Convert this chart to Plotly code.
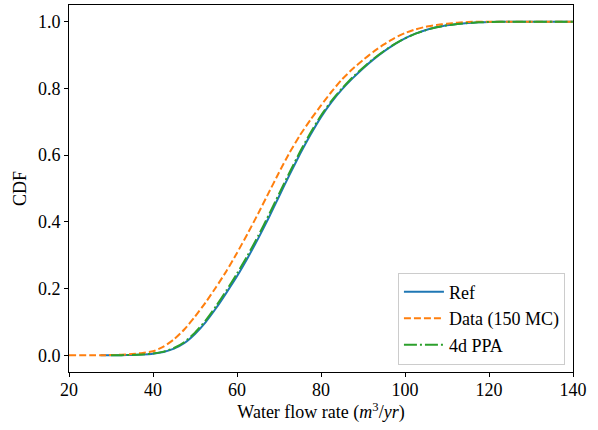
import plotly.graph_objects as go

# ---- data ----
x_ref = [27.5, 30, 32.5, 35, 37.5, 40, 42.5, 45, 47.5, 50, 52.5, 55, 57.5, 60, 62.5, 65, 67.5, 70,
         72.5, 75, 77.5, 80, 82.5, 85, 87.5, 90, 92.5, 95, 97.5, 100, 102.5, 105, 107.5, 110,
         112.5, 115, 117.5, 120, 125, 130, 135, 140]
y_ref = [0.0, 0.0002, 0.0005, 0.001, 0.0025, 0.005, 0.01, 0.02, 0.037, 0.064, 0.099, 0.141, 0.188, 0.237,
         0.291, 0.349, 0.411, 0.476, 0.541, 0.603, 0.661, 0.714, 0.759, 0.797, 0.830, 0.860, 0.887,
         0.911, 0.932, 0.950, 0.964, 0.975, 0.983, 0.989, 0.993, 0.996, 0.998, 0.999, 1.0, 1.0, 1.0, 1.0]

x_data = [20, 25, 27.5, 30, 32.5, 35, 37.5, 40, 42.5, 45, 47.5, 50, 52.5, 55, 57.5, 60, 62.5, 65, 67.5, 70,
          72.5, 75, 77.5, 80, 82.5, 85, 87.5, 90, 92.5, 95, 97.5, 100, 102.5, 105, 107.5, 110,
          112.5, 115, 117.5, 120, 125, 130, 135, 140]
y_data = [0.0, 0.0, 0.0003, 0.0008, 0.002, 0.004, 0.007, 0.012, 0.026, 0.048, 0.078, 0.116, 0.158, 0.204,
          0.253, 0.307, 0.364, 0.424, 0.486, 0.548, 0.607, 0.660, 0.706, 0.749, 0.790, 0.827, 0.858,
          0.885, 0.910, 0.932, 0.951, 0.966, 0.977, 0.985, 0.990, 0.994, 0.997, 0.999, 1.0, 1.0, 1.0,
          1.0, 1.0, 1.0]

x_ppa = [30, 32.5, 35, 37.5, 40, 42.5, 45, 47.5, 50, 52.5, 55, 57.5, 60, 62.5, 65, 67.5, 70,
         72.5, 75, 77.5, 80, 82.5, 85, 87.5, 90, 92.5, 95, 97.5, 100, 102.5, 105, 107.5, 110,
         112.5, 115, 117.5, 120, 125, 130, 135, 140]
y_ppa = [0.0002, 0.0005, 0.001, 0.0027, 0.0055, 0.011, 0.022, 0.040, 0.068, 0.104, 0.147, 0.195, 0.245,
         0.299, 0.357, 0.419, 0.484, 0.548, 0.610, 0.667, 0.719, 0.763, 0.800, 0.833, 0.862, 0.889,
         0.912, 0.933, 0.950, 0.964, 0.975, 0.983, 0.989, 0.993, 0.996, 0.998, 0.999, 1.0, 1.0, 1.0, 1.0]

x_ticks = [20, 40, 60, 80, 100, 120, 140]
y_ticks = [0.0, 0.2, 0.4, 0.6, 0.8, 1.0]

FONT = "Liberation Serif"
FS = 18

fig = go.Figure()
fig.add_trace(go.Scatter(x=x_ref, y=y_ref, mode="lines", name="Ref",
                         line=dict(color="#1f77b4", width=2, shape="spline", smoothing=0.5)))
fig.add_trace(go.Scatter(x=x_data, y=y_data, mode="lines", name="Data (150 MC)",
                         line=dict(color="#ff7f0e", width=2, dash="7px,3px", shape="spline", smoothing=0.5)))
fig.add_trace(go.Scatter(x=x_ppa, y=y_ppa, mode="lines", name="4d PPA",
                         line=dict(color="#2ca02c", width=2, dash="13px,3px,2px,3px", shape="spline", smoothing=0.5)))

axis_common = dict(showline=True, linecolor="black", linewidth=1, mirror=True,
                   ticks="outside", ticklen=4, tickwidth=1, tickcolor="black",
                   showgrid=False, zeroline=False)

fig.update_xaxes(range=[20, 140], tickvals=x_ticks, ticktext=[str(v) for v in x_ticks],
                 tickfont=dict(family=FONT, size=FS, color="black"), ticklabelstandoff=-3,
                 title=dict(text="Water flow rate (<i>m</i><sup>3</sup>/<i>yr</i>)",
                            font=dict(family=FONT, size=FS, color="black"), standoff=6),
                 **axis_common)
fig.update_yaxes(range=[-0.05, 1.05], tickvals=y_ticks, ticktext=[f"{v:.1f}" for v in y_ticks],
                 tickfont=dict(family=FONT, size=FS, color="black"),
                 title=dict(text="CDF", font=dict(family=FONT, size=FS, color="black"), standoff=6),
                 **axis_common)

fig.update_layout(
    width=598, height=430,
    margin=dict(l=69, r=25, t=5, b=58),
    plot_bgcolor="white", paper_bgcolor="white",
    font=dict(family=FONT, size=FS, color="black"),
    legend=dict(x=0.984, y=0.02, xanchor="right", yanchor="bottom",
                bordercolor="#cccccc", borderwidth=1, bgcolor="rgba(255,255,255,0.8)",
                font=dict(family=FONT, size=FS, color="black"),
                tracegroupgap=0, itemwidth=40),
    showlegend=True,
)

fig.write_html("out.html", config={"displayModeBar": False},
               post_script="document.body.style.margin='0px';")
